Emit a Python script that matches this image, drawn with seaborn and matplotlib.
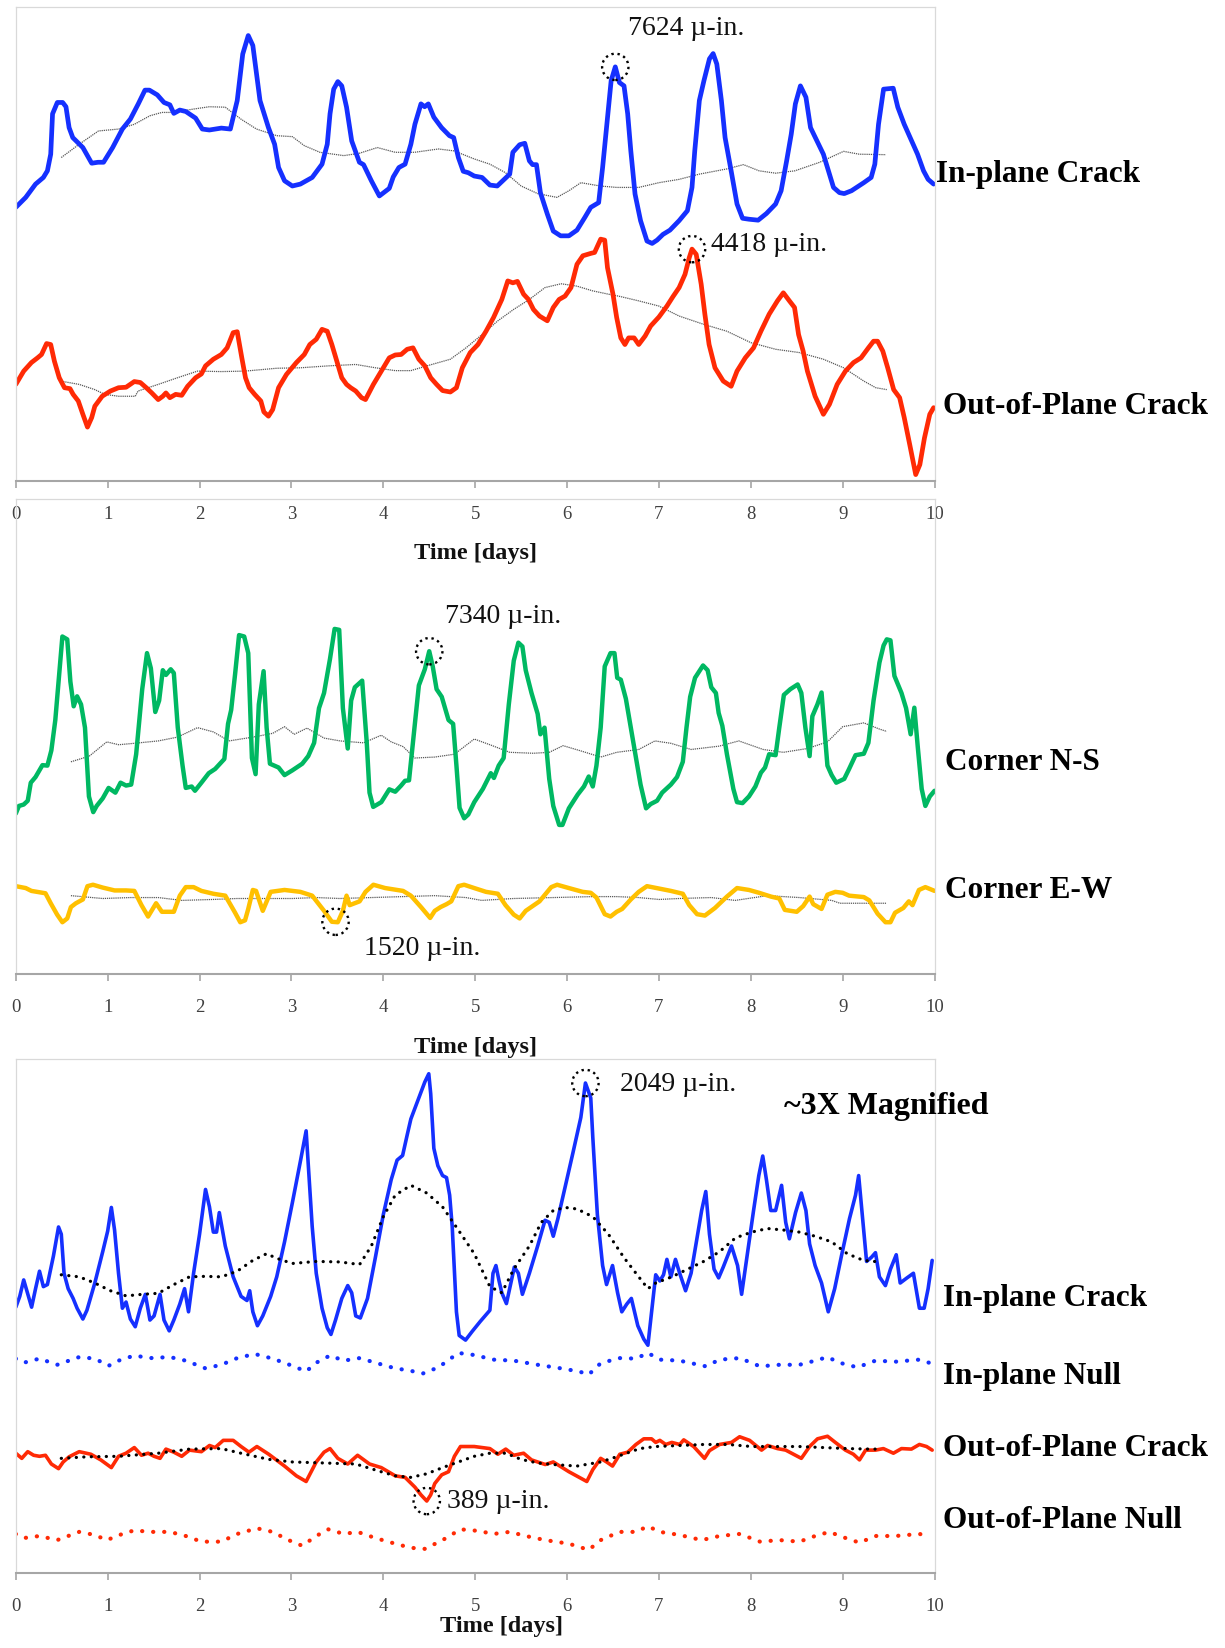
import numpy as np
import pandas as pd
import matplotlib
matplotlib.use("Agg")
import matplotlib.pyplot as plt
import seaborn as sns

# ---------------- DATA (x = time in days, y = position in % of panel height) ----------------
TOP_INPLANE = [(0,57.7),(0.108,59.8),(0.215,62.6),(0.30,64),(0.344,65.4),(0.38,68.9),(0.40,77.4),(0.452,79.8),(0.51,79.8),(0.546,78.9),(0.58,74.5),(0.62,72.4),(0.73,70.3),(0.826,67),(0.895,67.2),(0.955,67.2),(1.054,70.3),(1.16,74.2),(1.247,76.3),(1.333,79.5),(1.406,82.4),(1.454,82.4),(1.54,81.4),(1.613,79.8),(1.677,79.3),(1.72,77.5),(1.785,78.2),(1.85,77.9),(1.957,76.5),(2.03,74.2),(2.107,74),(2.237,74.4),(2.335,74.2),(2.41,80.2),(2.47,90),(2.53,93.9),(2.58,91.8),(2.658,80.2),(2.75,74.5),(2.817,71),(2.86,66.1),(2.925,63.3),(3.01,62.2),(3.097,62.6),(3.226,64),(3.333,66.8),(3.39,71),(3.42,77.4),(3.46,82.6),(3.505,84.2),(3.548,83.3),(3.6,78.8),(3.656,71.7),(3.74,67.2),(3.785,66.7),(3.87,63.3),(3.957,60.1),(4.065,61.7),(4.108,64.1),(4.17,66.1),(4.237,66.8),(4.3,71),(4.344,75.2),(4.41,79.5),(4.45,78.9),(4.49,79.5),(4.55,76.7),(4.634,74.5),(4.72,72.8),(4.766,72.4),(4.817,68.2),(4.87,65.3),(4.925,65),(4.99,64.3),(5.075,64),(5.16,62.4),(5.24,62.2),(5.3,63.3),(5.376,64.7),(5.41,69.3),(5.484,70.9),(5.54,71.2),(5.59,67.5),(5.625,66.7),(5.667,66.7),(5.71,60.8),(5.785,56.3),(5.85,52.7),(5.93,51.7),(6.02,51.7),(6.108,52.9),(6.194,55.6),(6.258,57.7),(6.344,58.7),(6.387,66.1),(6.43,74.5),(6.48,84.4),(6.525,87.3),(6.57,84),(6.62,83.3),(6.66,77.4),(6.694,69.6),(6.74,60.5),(6.8,54.9),(6.87,50.6),(6.926,50.1),(6.98,50.8),(7.044,52),(7.12,52.9),(7.22,54.9),(7.31,57),(7.36,61.9),(7.39,69.6),(7.44,80.2),(7.49,84.4),(7.55,89),(7.59,90.1),(7.63,87.9),(7.68,80.2),(7.72,72.4),(7.786,65.4),(7.85,58.4),(7.91,55.4),(7.98,55.2),(8.08,55),(8.17,56.4),(8.27,58.4),(8.33,61.2),(8.39,67.5),(8.44,73.1),(8.485,79.5),(8.54,83.3),(8.6,80.9),(8.65,74.5),(8.72,71.7),(8.79,68.9),(8.834,66.1),(8.9,61.9),(8.965,60.8),(9.017,60.6),(9.096,61.2),(9.23,62.9),(9.31,64),(9.35,66.8),(9.39,75.2),(9.445,82.6),(9.55,82.8),(9.6,78.8),(9.67,75.2),(9.75,71.7),(9.815,68.9),(9.88,65.4),(9.93,63.6),(9.99,62.6)]
TOP_INPLANE_AVG = [(0.495,68.2),(0.69,71),(0.9,73.8),(1.12,74.2),(1.29,75.2),(1.46,77),(1.59,77.7),(1.72,77.7),(1.93,78.4),(2.107,78.9),(2.28,78.8),(2.45,76.3),(2.62,74.2),(2.84,72.8),(3.01,72.6),(3.14,70.7),(3.31,69.3),(3.57,68.6),(3.74,69.1),(3.935,70.3),(4.13,69.3),(4.34,69.3),(4.6,70),(4.77,69.6),(4.99,67.9),(5.16,66.8),(5.33,65),(5.5,62.2),(5.68,60.6),(5.89,59.8),(6.02,61.2),(6.15,62.9),(6.36,62.2),(6.54,61.9),(6.78,61.9),(7,62.9),(7.22,63.6),(7.44,64.7),(7.74,65.8),(7.92,66.7),(8.09,65.4),(8.27,64.9),(8.48,65.4),(8.75,67.2),(9.01,69.5),(9.18,68.9),(9.47,68.8)]
TOP_OUTPLANE = [(0,20.4),(0.086,23.2),(0.17,25),(0.237,26),(0.28,26.7),(0.335,29),(0.38,28.8),(0.42,25.3),(0.473,21.8),(0.53,19.7),(0.59,19.5),(0.624,18.3),(0.68,16.9),(0.73,14.1),(0.78,11.4),(0.826,13.4),(0.86,15.8),(0.94,17.9),(1.03,19),(1.118,19.7),(1.2,19.8),(1.29,21),(1.355,20.8),(1.42,19.7),(1.48,18.6),(1.55,17.2),(1.6,17.9),(1.634,18.6),(1.677,17.6),(1.74,18.3),(1.806,18.1),(1.87,20),(1.957,21.8),(2.02,22.6),(2.065,24.3),(2.15,25.7),(2.237,26.7),(2.3,28.1),(2.366,31.3),(2.41,31.5),(2.46,26),(2.5,21.8),(2.54,19.7),(2.6,18.3),(2.667,16.9),(2.7,14.6),(2.75,13.7),(2.796,15.1),(2.86,19.7),(2.946,22.5),(3.054,25),(3.14,26.7),(3.2,28.8),(3.27,29.9),(3.333,32),(3.39,31.6),(3.44,28.8),(3.505,24.6),(3.548,21.8),(3.6,20.4),(3.645,19.7),(3.7,19),(3.763,17.6),(3.806,17.2),(3.892,20.4),(3.978,23.2),(4.065,26),(4.13,26.6),(4.194,26.7),(4.26,27.8),(4.323,28.1),(4.387,25.7),(4.452,24.3),(4.516,21.8),(4.58,20.4),(4.645,19.1),(4.73,18.8),(4.796,19.7),(4.86,23.9),(4.946,27.1),(5.03,28.8),(5.118,31.6),(5.2,34.5),(5.29,38.3),(5.355,42.2),(5.41,41.8),(5.46,42.1),(5.527,39.4),(5.58,38.3),(5.634,36.2),(5.7,34.8),(5.785,33.8),(5.85,36.6),(5.914,38.3),(5.978,39),(6.043,40.8),(6.108,45.7),(6.172,47.5),(6.258,48),(6.3,48.2),(6.366,51),(6.41,50.8),(6.44,45),(6.5,39.4),(6.54,34.5),(6.585,30.2),(6.63,28.8),(6.67,30.2),(6.73,30.2),(6.78,28.8),(6.85,30.6),(6.91,32.7),(7,34.6),(7.087,36.9),(7.153,38.9),(7.22,40.8),(7.284,43.6),(7.33,47.1),(7.36,48.9),(7.406,47.8),(7.46,41.5),(7.5,35.2),(7.546,28.8),(7.61,23.9),(7.7,21.1),(7.786,20),(7.85,23.2),(7.94,26),(8.03,28.1),(8.11,31.6),(8.2,35.2),(8.29,38),(8.354,39.7),(8.42,38),(8.476,36.6),(8.52,30.9),(8.57,27.4),(8.616,23.2),(8.7,17.9),(8.79,14.1),(8.856,16.2),(8.94,20.4),(9.03,23.2),(9.118,25),(9.2,26),(9.28,28.1),(9.336,29.5),(9.38,29.5),(9.437,27.4),(9.49,23.9),(9.555,19.3),(9.62,17.6),(9.67,13.4),(9.73,7.7),(9.795,1.4),(9.84,3.5),(9.89,9.1),(9.948,14.1),(9.99,15.5)]
TOP_OUTPLANE_AVG = [(0.516,21),(0.69,20.4),(0.86,19.3),(0.968,18.3),(1.118,17.9),(1.3,17.9),(1.33,19),(1.55,20.4),(1.76,21.8),(1.978,23.2),(2.237,23.1),(2.495,23.2),(2.84,23.8),(3.1,23.9),(3.4,24.3),(3.7,24.6),(3.914,23.9),(4.13,23.3),(4.3,23.3),(4.473,24.3),(4.73,25.7),(4.9,28.1),(5.075,30.9),(5.247,33.8),(5.419,36.2),(5.59,38.3),(5.76,40.8),(5.935,41.6),(6.108,41.1),(6.28,40.1),(6.452,39.4),(6.56,39),(6.78,38),(7,36.9),(7.22,34.8),(7.48,33.1),(7.74,31.6),(8,29.2),(8.27,27.8),(8.53,27.1),(8.79,25.7),(9.01,23.9),(9.23,21.1),(9.36,19.7),(9.48,19.3)]

MID_NS = [(0,33.8),(0.034,35.4),(0.086,35.7),(0.13,36.5),(0.163,40.3),(0.215,41.5),(0.29,44),(0.344,43.9),(0.387,47.1),(0.43,53.5),(0.473,63.2),(0.507,71.1),(0.56,70.5),(0.594,61.6),(0.63,56.4),(0.667,58.5),(0.71,56.8),(0.753,51.9),(0.796,37.4),(0.843,34.1),(0.88,35.4),(0.946,37),(1.01,39.2),(1.084,38.2),(1.14,40.3),(1.2,39.7),(1.256,39.9),(1.31,46.3),(1.376,60),(1.428,67.6),(1.47,64.4),(1.518,55.2),(1.56,57.6),(1.6,64),(1.634,63),(1.686,64.2),(1.72,63.4),(1.763,51.9),(1.815,43.9),(1.85,39.2),(1.914,39.5),(1.95,38.6),(2.02,40.3),(2.1,42.3),(2.17,43.2),(2.27,45.3),(2.31,52.7),(2.344,55.6),(2.387,63.2),(2.43,71.4),(2.486,71.1),(2.53,67.6),(2.57,45.5),(2.61,42.1),(2.645,56.8),(2.697,63.8),(2.73,51.9),(2.766,44.3),(2.86,43.5),(2.925,41.9),(3.01,42.9),(3.118,44.3),(3.183,45.9),(3.247,48.7),(3.3,56),(3.355,59.2),(3.42,66.4),(3.47,72.7),(3.52,72.5),(3.56,56),(3.613,47.5),(3.65,57.6),(3.69,60.4),(3.77,61.8),(3.82,48.7),(3.85,38.2),(3.89,35.2),(3.978,36.2),(4.065,38.9),(4.13,38.4),(4.194,39.7),(4.237,40.7),(4.28,40.8),(4.34,51.9),(4.387,60.8),(4.452,64.2),(4.5,68),(4.538,64.8),(4.58,60),(4.636,58.4),(4.71,53.5),(4.76,52.7),(4.796,43.9),(4.83,35),(4.88,32.8),(4.925,33.6),(4.99,36.2),(5.084,39),(5.17,42.3),(5.204,41.3),(5.256,43.9),(5.31,45.5),(5.366,56.8),(5.42,66),(5.47,69.8),(5.514,69),(5.55,64),(5.613,59.2),(5.68,54.8),(5.71,50.5),(5.755,51.9),(5.806,41.1),(5.85,35.4),(5.914,31.4),(5.95,31.4),(6.02,34.9),(6.116,37.8),(6.184,39.5),(6.236,41.6),(6.28,39.5),(6.32,43.9),(6.366,51.9),(6.41,64.8),(6.473,67.6),(6.516,67.6),(6.546,62.4),(6.585,62),(6.64,58),(6.694,51.9),(6.75,45.5),(6.8,39.9),(6.86,34.9),(6.91,35.8),(6.98,36.5),(7.035,38.2),(7.13,39.9),(7.197,41.5),(7.26,44.7),(7.3,51.9),(7.34,58.4),(7.393,62.4),(7.48,65),(7.53,64),(7.57,60.4),(7.62,59.2),(7.65,55),(7.69,52.3),(7.74,46.3),(7.81,39),(7.85,36.2),(7.91,36),(7.98,37.4),(8.05,39.5),(8.11,42.4),(8.155,43.5),(8.2,46.3),(8.27,46.1),(8.31,51.9),(8.36,58.8),(8.43,60),(8.51,61),(8.55,59.2),(8.594,51.9),(8.64,45.9),(8.67,54.3),(8.725,56.8),(8.77,59.3),(8.8,51.9),(8.834,43.9),(8.88,41.9),(8.93,40.3),(9.017,41.1),(9.07,43.2),(9.14,46.1),(9.23,46.4),(9.28,48.7),(9.336,57.6),(9.4,65.6),(9.445,69.2),(9.48,70.5),(9.52,70.3),(9.563,62.8),(9.64,59.2),(9.69,56),(9.74,50.5),(9.78,56.1),(9.817,47.9),(9.86,39),(9.9,35.4),(9.948,37.4),(10,38.6)]
MID_NS_AVG = [(0.6,44.7),(0.8,45.9),(0.99,48.9),(1.12,48.3),(1.29,48.6),(1.55,49.1),(1.76,49.9),(1.978,51.9),(2.15,51),(2.32,49.1),(2.58,49.9),(2.796,50.7),(2.925,52.1),(3.03,50.5),(3.17,51.8),(3.355,49.7),(3.53,49.1),(3.785,48.7),(3.978,50.3),(4.086,48.9),(4.215,47.9),(4.344,45.5),(4.56,45.7),(4.774,46.3),(4.99,49.5),(5.16,48.3),(5.376,46.7),(5.634,46.5),(5.806,46.7),(5.957,48.1),(6.15,47),(6.366,45.7),(6.54,46.7),(6.78,47.3),(6.956,49.1),(7.13,48.6),(7.35,47.3),(7.655,48),(7.87,49.1),(8.135,47.3),(8.354,46.7),(8.616,47.5),(8.834,48.9),(9.0,52.1),(9.23,52.9),(9.4,51.6),(9.48,51.1)]
MID_EW = [(0,18.5),(0.108,18.1),(0.17,17.5),(0.323,17),(0.38,14.9),(0.45,12.5),(0.507,10.9),(0.56,11.7),(0.6,14.1),(0.654,14.9),(0.73,15.7),(0.78,18.5),(0.84,18.8),(0.946,18.2),(1.075,17.6),(1.2,17.6),(1.29,17.5),(1.368,14.5),(1.44,12.1),(1.527,14.9),(1.59,13.1),(1.72,13.1),(1.785,16.5),(1.85,18.3),(1.935,18.3),(2.02,17.5),(2.15,16.9),(2.28,16.5),(2.387,12.9),(2.443,10.9),(2.495,11.3),(2.53,13.7),(2.58,17.7),(2.615,17.5),(2.688,13.3),(2.774,17.3),(2.925,17.7),(3.097,17.3),(3.226,16.5),(3.355,13.3),(3.44,11),(3.505,10.9),(3.56,13.3),(3.6,16.5),(3.634,14.5),(3.742,15.3),(3.806,17.3),(3.892,18.8),(4.02,18.1),(4.215,17.5),(4.3,16.5),(4.41,14.1),(4.51,11.8),(4.56,13.3),(4.624,14.1),(4.688,14.7),(4.74,15.3),(4.817,18.5),(4.88,18.8),(4.99,18.1),(5.118,17.3),(5.247,16.9),(5.33,14.5),(5.42,12.5),(5.484,11.7),(5.55,13.3),(5.7,15.3),(5.828,18.3),(5.892,18.8),(6.02,18.1),(6.17,17.3),(6.258,17.1),(6.32,16.1),(6.41,12.6),(6.473,12.1),(6.54,13.1),(6.6,13.7),(6.694,15.7),(6.78,17.3),(6.87,18.5),(7,18),(7.13,17.5),(7.26,16.9),(7.33,14.5),(7.415,12.6),(7.5,12.3),(7.61,13.9),(7.74,16.3),(7.85,18.1),(7.98,17.7),(8.09,17.1),(8.22,16.3),(8.31,15.9),(8.37,13.5),(8.5,13.1),(8.57,14.3),(8.64,16.3),(8.68,14.7),(8.77,13.7),(8.834,16.7),(8.92,17.3),(9.0,17.1),(9.07,16.5),(9.23,16.2),(9.29,15.5),(9.38,12.7),(9.466,10.9),(9.52,10.9),(9.57,12.9),(9.66,13.9),(9.72,15.3),(9.76,14.5),(9.83,17.7),(9.9,18.3),(10,17.5)]
MID_EW_AVG = [(0.6,16.5),(0.946,15.9),(1.25,16.1),(1.55,16.1),(1.806,15.5),(2.15,15.7),(2.41,15.9),(2.667,15.9),(3.01,15.9),(3.27,16.1),(3.527,15.9),(3.87,16.1),(4.215,16.3),(4.56,16.5),(4.9,16.1),(5.07,15.5),(5.42,15.9),(5.85,16.1),(6.28,16.3),(6.54,16.3),(6.78,16.1),(7,15.7),(7.22,15.9),(7.57,16.1),(7.83,15.5),(8.18,16.5),(8.53,16.1),(8.88,15.5),(8.97,14.9),(9.48,14.9)]

BOT_INPLANE = [(0,51.7),(0.043,53.8),(0.086,57),(0.12,54.9),(0.172,51.7),(0.215,55.3),(0.258,58.7),(0.3,55.7),(0.344,56.1),(0.41,61.7),(0.465,67.3),(0.495,65.9),(0.525,58.3),(0.57,55.3),(0.624,53.4),(0.667,51.5),(0.73,49.4),(0.774,51.1),(0.86,56.4),(0.946,62.5),(1,66.5),(1.04,71.1),(1.075,66.7),(1.118,58.3),(1.16,51.5),(1.2,52.7),(1.247,49.4),(1.3,47.9),(1.355,51.5),(1.41,54.2),(1.46,49.2),(1.505,50),(1.57,54.2),(1.613,49.2),(1.67,47.1),(1.72,49.2),(1.785,52.3),(1.837,55.3),(1.88,50.8),(1.935,58.3),(2,65.9),(2.065,74.6),(2.108,71.2),(2.15,66.3),(2.185,66.3),(2.215,70.1),(2.28,63.6),(2.366,57.6),(2.452,53.8),(2.516,53),(2.546,54.9),(2.58,50.8),(2.63,48.1),(2.688,50),(2.774,53.8),(2.84,57.6),(2.925,64.4),(3.01,72),(3.1,80.3),(3.16,86),(3.226,67.4),(3.27,58.3),(3.333,51.5),(3.39,47.7),(3.43,46.4),(3.48,49.2),(3.548,53.4),(3.613,55.9),(3.656,54.5),(3.7,50),(3.75,49.6),(3.828,53.4),(3.914,61.4),(4,69.7),(4.086,76.5),(4.15,80.3),(4.21,81.2),(4.26,85.2),(4.3,88.3),(4.387,92.4),(4.452,95.5),(4.495,97.1),(4.516,93.2),(4.55,82.6),(4.594,79.2),(4.645,77.3),(4.688,76.9),(4.722,73.5),(4.75,67.4),(4.796,50.8),(4.826,46.2),(4.895,45.3),(4.968,47),(5.054,48.9),(5.16,51.1),(5.194,58.3),(5.226,59.8),(5.26,56.8),(5.29,54.5),(5.34,52.4),(5.38,55.7),(5.426,59.5),(5.47,58.3),(5.514,54.2),(5.59,58.3),(5.68,63.6),(5.76,68.6),(5.806,68.2),(5.85,65.5),(5.9,68.9),(5.978,75),(6.065,81.8),(6.15,88.6),(6.2,95.3),(6.258,92.4),(6.28,84.8),(6.33,69.7),(6.387,59.8),(6.43,56.1),(6.495,59.8),(6.55,54.5),(6.596,50.8),(6.65,52.3),(6.7,53.4),(6.77,48.1),(6.835,45.5),(6.88,44.3),(6.92,50.8),(6.965,58),(7.01,56.8),(7.05,58),(7.087,61),(7.13,57.6),(7.18,61),(7.226,58.3),(7.29,54.9),(7.35,58.3),(7.4,63.6),(7.465,70.5),(7.51,74.2),(7.55,65.9),(7.6,59.1),(7.65,57.4),(7.7,59.5),(7.79,63.6),(7.856,59.8),(7.9,54.2),(7.957,61.4),(8.03,70.5),(8.087,77.3),(8.13,81.1),(8.17,76.5),(8.217,70.5),(8.27,70.5),(8.335,75.4),(8.38,68.2),(8.42,65),(8.487,70.1),(8.55,73.9),(8.6,70.5),(8.64,64),(8.7,59.8),(8.77,56.4),(8.843,50.8),(8.913,55.3),(8.987,61.7),(9.074,68.9),(9.14,73.5),(9.174,77.3),(9.217,68.9),(9.26,60.6),(9.313,61.4),(9.357,62.3),(9.4,57.6),(9.465,55.9),(9.52,59.1),(9.583,61.9),(9.626,56.4),(9.7,57.4),(9.77,58.3),(9.835,51.5),(9.887,51.5),(9.93,55.3),(9.974,60.8)]
BOT_INPLANE_AVG = [(0.495,58),(0.69,57.6),(0.86,56.4),(1.03,54.9),(1.2,53.9),(1.376,54.2),(1.55,54.4),(1.72,56.1),(1.89,57.6),(2.065,57.7),(2.237,57.6),(2.41,58.7),(2.58,60.8),(2.73,62.1),(2.84,61.2),(3.01,60.2),(3.27,60.6),(3.527,60.5),(3.742,60),(3.87,63.6),(4,69.3),(4.13,73.5),(4.3,75.4),(4.473,73.9),(4.645,71.2),(4.817,66.7),(4.99,62.1),(5.16,55.7),(5.29,54.5),(5.42,59.1),(5.59,63.6),(5.72,68.2),(5.85,70.5),(5.978,71.1),(6.108,70.8),(6.28,69.3),(6.45,65.9),(6.617,61.4),(6.75,58.3),(6.88,55.3),(6.965,56.4),(7.14,57.6),(7.313,59.1),(7.487,60.6),(7.66,62.5),(7.835,65.2),(8.01,66.3),(8.18,67),(8.357,66.7),(8.53,66.3),(8.7,65.5),(8.88,64.4),(9.05,62.1),(9.226,60.8),(9.4,60.5)]
BOT_INPLANE_NULL = [(0,41.7),(0.086,40.9),(0.258,41.7),(0.45,40.5),(0.69,42),(0.86,41.7),(1.01,40.3),(1.118,41.3),(1.29,42.3),(1.46,41.8),(1.677,42),(1.85,41.3),(2.065,39.8),(2.237,40.5),(2.41,41.8),(2.6,42.6),(2.796,41.7),(3.01,40.3),(3.16,39.2),(3.27,40.9),(3.42,42.3),(3.57,41.3),(3.742,41.8),(3.914,40.9),(4.13,39.8),(4.28,39.4),(4.43,38.8),(4.6,40),(4.817,42.8),(4.99,42.4),(5.2,41.5),(5.42,41.3),(5.68,40.5),(5.935,39.8),(6.13,39.2),(6.236,38.6),(6.366,40.8),(6.57,41.8),(6.75,41.7),(6.88,42.8),(7.01,41.5),(7.226,41.3),(7.51,40.2),(7.66,41.5),(7.88,41.8),(8.1,40.2),(8.313,40.5),(8.53,40.5),(8.7,41.3),(8.835,42),(8.965,40.9),(9.16,40),(9.357,41.3),(9.574,41.1),(9.835,41.5),(9.94,40.9)]
BOT_OUTPLANE = [(0,23.3),(0.065,22.3),(0.13,23.6),(0.194,22.9),(0.258,22.7),(0.323,22.9),(0.387,21.2),(0.465,20.3),(0.516,21.6),(0.58,22.6),(0.69,23.6),(0.817,23.1),(0.925,22),(1.04,20.5),(1.118,22.7),(1.2,23.3),(1.29,24.4),(1.368,22.9),(1.44,23.3),(1.505,22.7),(1.57,22.3),(1.634,24.1),(1.72,23.5),(1.806,22.7),(1.89,23.9),(2.02,23.6),(2.108,24.8),(2.17,24.4),(2.258,25.8),(2.366,25.8),(2.452,24.6),(2.538,23.5),(2.624,24.6),(2.753,23.1),(2.925,20.8),(3.054,18.9),(3.16,17.8),(3.27,21.6),(3.355,23.5),(3.42,24.2),(3.505,22.3),(3.613,21.2),(3.72,22.9),(3.85,21.2),(3.978,20.5),(4.13,18.9),(4.237,18.6),(4.344,16.7),(4.41,15.2),(4.473,14),(4.516,15.2),(4.56,17.4),(4.636,19.1),(4.71,19.7),(4.774,22.7),(4.84,24.6),(4.99,24.6),(5.16,24.2),(5.247,23.1),(5.333,24.1),(5.42,22.9),(5.527,23.3),(5.613,22),(5.763,21.1),(5.85,21.6),(6.02,19.7),(6.215,17.8),(6.28,20.1),(6.366,22.3),(6.43,21.6),(6.495,20.8),(6.574,23.1),(6.66,23.5),(6.75,25),(6.835,26.1),(6.92,26.1),(6.965,25.4),(7.01,25.8),(7.074,25),(7.14,25.4),(7.226,25),(7.27,25.9),(7.378,24.6),(7.496,22.3),(7.55,23.8),(7.66,25),(7.79,25.4),(7.878,26.5),(7.987,25.8),(8.117,23.9),(8.183,24.8),(8.29,24.2),(8.38,23.9),(8.465,23.1),(8.55,22.3),(8.64,24.6),(8.726,26.1),(8.835,26.6),(8.92,25.4),(9.03,23.9),(9.117,23.1),(9.183,22),(9.25,23.9),(9.357,23.9),(9.443,24.2),(9.552,23.3),(9.64,24.2),(9.748,24.1),(9.835,25),(9.913,24.6),(9.974,23.9)]
BOT_OUTPLANE_AVG = [(0.495,22.3),(0.774,22.6),(1.118,22.7),(1.55,23.3),(1.89,24.1),(2.237,24.2),(2.45,23.3),(2.753,22.1),(3.01,21.6),(3.355,21.4),(3.7,21.2),(3.957,19.8),(4.13,18.9),(4.3,18.6),(4.473,19.3),(4.645,20.5),(4.817,21.6),(4.99,22.7),(5.16,23.3),(5.333,23.3),(5.5,22.1),(5.68,21.4),(5.85,21.1),(6.108,20.8),(6.366,21.6),(6.487,22.3),(6.617,23.1),(6.79,24.2),(6.965,24.6),(7.226,24.8),(7.487,25),(7.75,25),(8.01,24.6),(8.27,24.6),(8.53,24.6),(8.79,24.4),(9.05,24.2),(9.313,24.1),(9.4,24.1)]
BOT_OUTPLANE_NULL = [(0,7.6),(0.086,6.8),(0.258,7.2),(0.45,6.4),(0.69,8),(0.86,7.4),(0.99,6.4),(1.16,7.6),(1.29,8.3),(1.46,8),(1.677,8),(1.85,7.2),(2.02,6.1),(2.237,6.1),(2.41,7.6),(2.624,8.7),(2.796,8),(2.968,6.4),(3.118,5.3),(3.27,7.2),(3.4,8.5),(3.57,7.6),(3.72,8),(3.914,6.8),(4.13,5.7),(4.3,4.9),(4.452,4.7),(4.645,6.4),(4.84,8.5),(5.03,8.2),(5.2,7.6),(5.376,8),(5.55,7.2),(5.763,6.4),(6.02,5.7),(6.236,4.5),(6.366,6.4),(6.57,8),(6.75,8),(6.88,9.1),(7.01,8),(7.226,7.4),(7.465,6.4),(7.66,7.2),(7.88,7.6),(8.1,6.1),(8.313,6.4),(8.53,6.1),(8.7,7.2),(8.856,8),(9.0,7),(9.183,5.9),(9.357,7.2),(9.574,7.2),(9.835,7.6),(9.94,7.2)]

# annotations: (x, y of circled point, label, text x, text y)
TOP_NOTES = [(6.525, 87.3, "7624 µ-in.", 6.66, 95.4), (7.36, 48.9, "4418 µ-in.", 7.57, 49.8)]
MID_NOTES = [(4.5, 68.0, "7340 µ-in.", 4.67, 75.4), (3.48, 11.0, "1520 µ-in.", 3.79, 5.4)]
BOT_NOTES = [(6.2, 95.3, "2049 µ-in.", 6.574, 95.0), (4.473, 14.0, "389 µ-in.", 4.69, 14.0)]

TOP_LABELS = [("In-plane Crack", 1.002, 64.6), ("Out-of-Plane Crack", 1.009, 15.7)]
MID_LABELS = [("Corner N-S", 1.011, 44.5), ("Corner E-W", 1.011, 17.5)]
BOT_LABELS = [("In-plane Crack", 1.009, 53.4), ("In-plane Null", 1.009, 38.2),
              ("Out-of-Plane Crack", 1.009, 24.3), ("Out-of-Plane Null", 1.009, 10.2)]
X_TICKS = list(range(11))

BLUE = "#1530ff"
RED = "#ff2a05"
GREEN = "#00b862"
YELLOW = "#ffc000"

# ---------------- STYLE ----------------
sns.set_style("white")
plt.rcParams["font.family"] = ["Liberation Serif", "DejaVu Serif"]

fig = plt.figure(figsize=(12.25, 16.48), dpi=100)
ax_top = fig.add_axes([0.0129, 0.708, 0.750, 0.288])
ax_mid = fig.add_axes([0.0129, 0.409, 0.750, 0.288])
ax_bot = fig.add_axes([0.0129, 0.0455, 0.750, 0.312])


def draw(ax, pairs, **kw):
    df = pd.DataFrame(pairs, columns=["day", "val"])
    sns.lineplot(data=df, x="day", y="val", ax=ax, estimator=None, sort=False,
                 legend=False, **kw)


def style_axis(ax, labelpad, xlabel_x=0.5):
    ax.set_xlim(0, 10)
    ax.set_ylim(0, 100)
    ax.set_yticks([])
    ax.set_ylabel("")
    ax.set_xticks(X_TICKS)
    ax.set_xticklabels([str(t) for t in X_TICKS])
    ax.tick_params(axis="x", direction="out", length=5, width=1.2, color="#a6a6a6",
                   pad=13, labelsize=13.5, labelcolor="#404040", bottom=True)
    for s in ["left", "top", "right"]:
        ax.spines[s].set_color("#d9d9d9")
        ax.spines[s].set_linewidth(0.9)
    ax.spines["bottom"].set_color("#a6a6a6")
    ax.spines["bottom"].set_linewidth(1.5)
    ax.set_xlabel("Time [days]", fontsize=17.5, fontweight="bold", labelpad=labelpad,
                  x=xlabel_x, color="#111111")
    ax.patch.set_alpha(0)


def notes(ax, items, fs=20):
    for (px, py, txt, tx, ty) in items:
        ax.scatter([px], [py], s=360, facecolors="none", edgecolors="black",
                   linewidths=1.7, linestyles=(0, (1, 1.6)), zorder=5)
        ax.text(tx, ty, txt, fontsize=fs, ha="left", va="center", color="#111111")


def labels(ax, items, fs=22.5):
    for (txt, x, y) in items:
        ax.text(x, y, txt, transform=ax.get_yaxis_transform(), fontsize=fs,
                fontweight="bold", ha="left", va="center", clip_on=False, color="black")


gray_ma = dict(color="#5a5a5a", linewidth=0.9, linestyle=(0, (1, 0.7)))

# top panel
draw(ax_top, TOP_INPLANE_AVG, **gray_ma)
draw(ax_top, TOP_OUTPLANE_AVG, **gray_ma)
draw(ax_top, TOP_INPLANE, color=BLUE, linewidth=3.4)
draw(ax_top, TOP_OUTPLANE, color=RED, linewidth=3.4)
style_axis(ax_top, labelpad=14)
notes(ax_top, TOP_NOTES)
labels(ax_top, TOP_LABELS)

# middle panel
draw(ax_mid, MID_NS_AVG, **gray_ma)
draw(ax_mid, MID_EW_AVG, **gray_ma)
draw(ax_mid, MID_NS, color=GREEN, linewidth=3.2)
draw(ax_mid, MID_EW, color=YELLOW, linewidth=3.2)
style_axis(ax_mid, labelpad=15)
notes(ax_mid, MID_NOTES)
labels(ax_mid, MID_LABELS)

# bottom panel
black_dots = dict(color="black", linewidth=2.3, linestyle=(0, (0.05, 2.3)), dash_capstyle="round")
draw(ax_bot, BOT_INPLANE_NULL, color=BLUE, linewidth=3.0, linestyle=(0, (0.05, 2.6)), dash_capstyle="round")
draw(ax_bot, BOT_OUTPLANE_NULL, color=RED, linewidth=3.0, linestyle=(0, (0.05, 2.6)), dash_capstyle="round")
draw(ax_bot, BOT_INPLANE, color=BLUE, linewidth=2.6)
draw(ax_bot, BOT_OUTPLANE, color=RED, linewidth=2.6)
draw(ax_bot, BOT_INPLANE_AVG, **black_dots)
draw(ax_bot, BOT_OUTPLANE_AVG, **black_dots)
style_axis(ax_bot, labelpad=1, xlabel_x=0.529)
notes(ax_bot, BOT_NOTES)
labels(ax_bot, BOT_LABELS)
ax_bot.text(8.365, 90.7, "~3X Magnified", fontsize=23, fontweight="bold",
            ha="left", va="center", clip_on=False, color="black")

fig.savefig("out.png", dpi=100)
